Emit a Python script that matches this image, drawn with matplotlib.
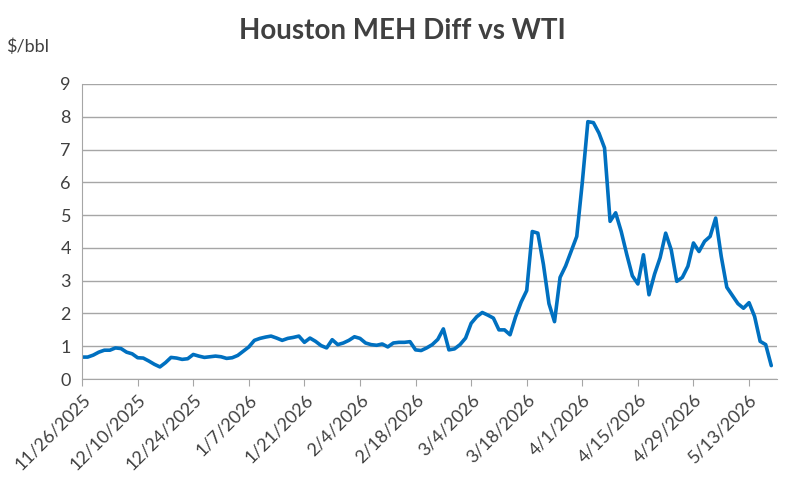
import matplotlib.pyplot as plt
import numpy as np
import pandas as pd

# Houston MEH differential vs WTI, $/bbl, business days from 11/26/2025
start_date = "2025-11-26"
values = [
    0.67, 0.67, 0.73, 0.82, 0.88, 0.88, 0.95, 0.93, 0.82, 0.77,
    0.65, 0.64, 0.55, 0.45, 0.37, 0.50, 0.66, 0.64, 0.60, 0.62,
    0.75, 0.70, 0.66, 0.68, 0.70, 0.68, 0.63, 0.65, 0.72, 0.85,
    0.98, 1.18, 1.24, 1.28, 1.31, 1.25, 1.18, 1.24, 1.27, 1.31,
    1.12, 1.25, 1.15, 1.02, 0.95, 1.20, 1.05, 1.10, 1.18, 1.29,
    1.24, 1.10, 1.05, 1.03, 1.07, 0.98, 1.10, 1.12, 1.12, 1.14,
    0.89, 0.87, 0.95, 1.05, 1.21, 1.53, 0.89, 0.92, 1.05, 1.25,
    1.70, 1.90, 2.03, 1.95, 1.86, 1.50, 1.50, 1.35, 1.90, 2.35,
    2.70, 4.50, 4.45, 3.50, 2.30, 1.75, 3.10, 3.45, 3.90, 4.35,
    6.00, 7.85, 7.82, 7.50, 7.05, 4.81, 5.07, 4.50, 3.80, 3.15,
    2.90, 3.79, 2.57, 3.20, 3.70, 4.45, 3.94, 2.98, 3.10, 3.44,
    4.15, 3.89, 4.20, 4.35, 4.91, 3.74, 2.80, 2.55, 2.30, 2.16,
    2.33, 1.91, 1.15, 1.05, 0.41,
]
dates = pd.bdate_range(start_date, periods=len(values))
tick_step = 10

plt.rcParams['font.family'] = ['Lato', 'DejaVu Sans']

fig = plt.figure(figsize=(8.05, 4.91), dpi=100)
ax = fig.add_axes([0.102, 0.228, 0.863, 0.601])

x = np.arange(len(values))
ax.plot(x, values, color='#0070C0', lw=2.6, solid_joinstyle='round', solid_capstyle='round')

ax.set_xlim(0, len(values))
ax.set_ylim(0, 9)
ax.set_yticks(range(0, 10))
ax.tick_params(axis='y', length=0, labelsize=13, colors='#404040', pad=8)
ax.grid(axis='y', color='#A6A6A6', lw=1)
ax.set_axisbelow(True)

ticks = x[::tick_step]
ax.set_xticks(ticks)
ax.set_xticklabels([f"{d.month}/{d.day}/{d.year}" for d in dates[::tick_step]],
                   rotation=45, ha='right', rotation_mode='anchor', fontsize=13, color='#404040')
ax.tick_params(axis='x', length=5, color='#A6A6A6', pad=4)

for s in ['top', 'right']:
    ax.spines[s].set_visible(False)
for s in ['left', 'bottom']:
    ax.spines[s].set_color('#A6A6A6')

fig.text(0.5, 0.92, "Houston MEH Diff vs WTI", ha='center', fontsize=20,
         fontweight='bold', color='#404040')
fig.text(0.008, 0.895, "$/bbl", fontsize=13, color='#404040')

fig.savefig('out.png', dpi=100)
